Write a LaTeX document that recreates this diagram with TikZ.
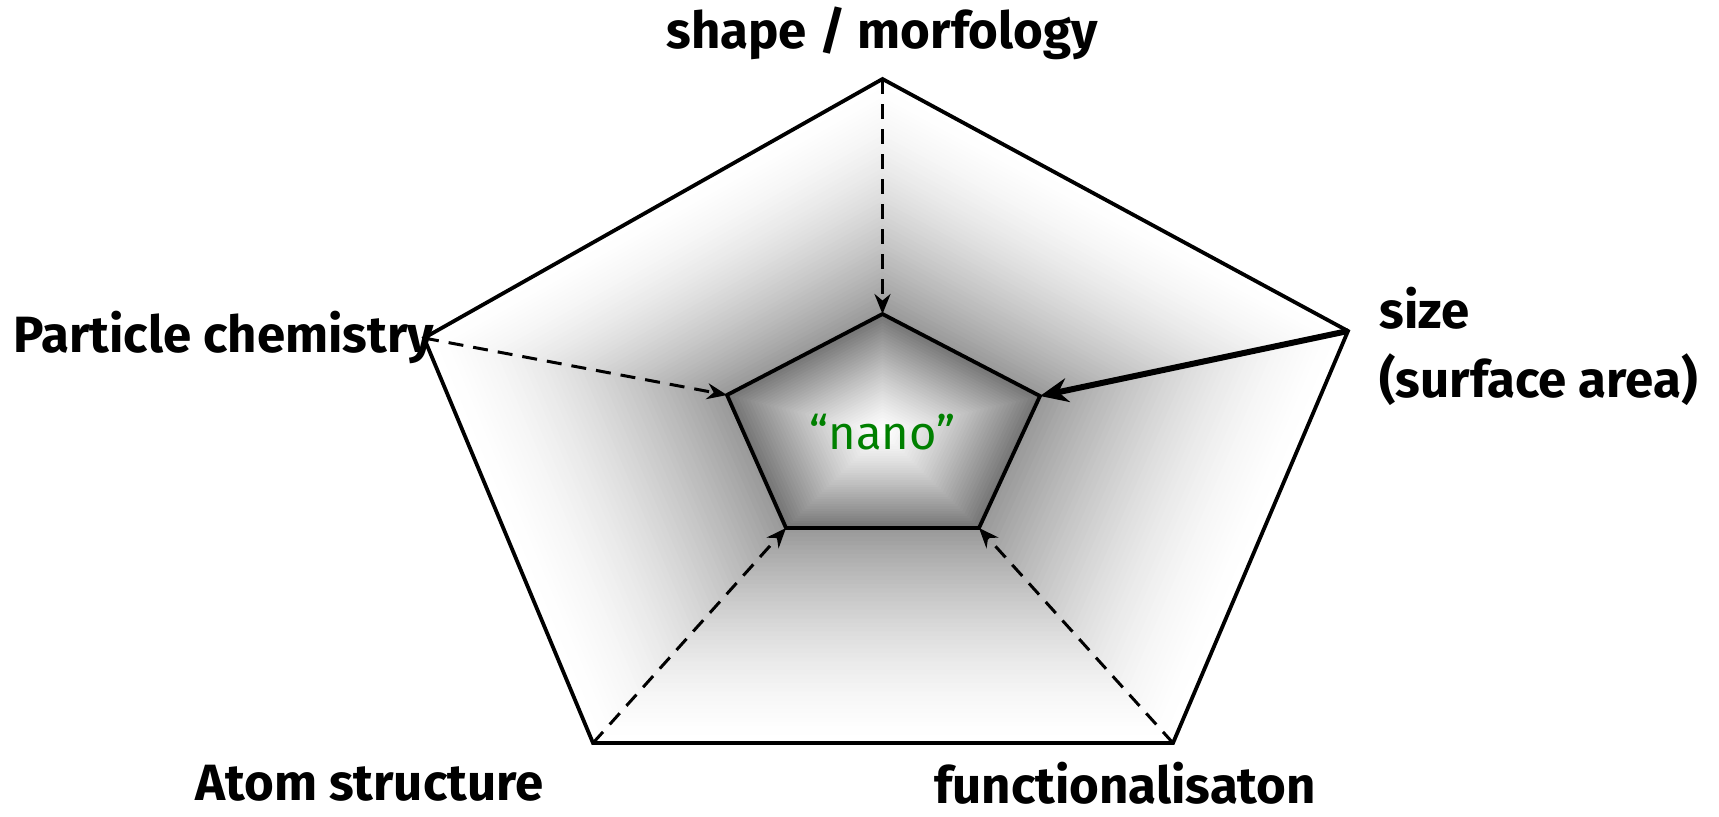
\documentclass[tikz,border=0pt]{standalone}
\usepackage{fontspec}
\setmainfont{Fira Sans}
\usetikzlibrary{calc,arrows.meta}

\tikzset{
    rim/.style={line width=1.9pt, line join=miter},
    feed/.style={line width=1.5pt, dash pattern=on 7.5pt off 5pt, -{Stealth[length=10pt,width=8pt]}},
    mainfeed/.style={line width=3pt, -{Stealth[length=14pt,width=12pt]}},
    factor/.style={font=\fontsize{25.5}{34.5}\selectfont\bfseries, inner sep=0pt}
}

\begin{document}
\begin{tikzpicture}[x=0.5pt, y=-0.5pt]
    \useasboundingbox (0,0) rectangle (1719,816);
    % outer and inner pentagon corners
    \coordinate (o1) at (882.5,79);
    \coordinate (o2) at (1348,331);
    \coordinate (o3) at (1173,743);
    \coordinate (o4) at (593,743);
    \coordinate (o5) at (424,338);
    \coordinate (i1) at (882.5,314);
    \coordinate (i2) at (1040,396);
    \coordinate (i3) at (979,528);
    \coordinate (i4) at (786,528);
    \coordinate (i5) at (727,395);
    \coordinate (c) at (882.5,432);
    % ring between the pentagons
    \foreach \t in {0,...,50}{
        \pgfmathsetmacro\f{\t/50}
        \pgfmathsetmacro\pct{41*(\f)^1.6}
        \fill[black!\pct] ($(o1)!\f!(i1)$) -- ($(o2)!\f!(i2)$) -- ($(o3)!\f!(i3)$)
            -- ($(o4)!\f!(i4)$) -- ($(o5)!\f!(i5)$) -- cycle;
    }
    % core
    \foreach \t in {0,...,40}{
        \pgfmathsetmacro\f{1-\t/40}
        \pgfmathsetmacro\pct{54*(\f)^1.3}
        \fill[black!\pct] ($(c)!\f!(i1)$) -- ($(c)!\f!(i2)$) -- ($(c)!\f!(i3)$)
            -- ($(c)!\f!(i4)$) -- ($(c)!\f!(i5)$) -- cycle;
    }
    \draw[rim] (o1) -- (o2) -- (o3) -- (o4) -- (o5) -- cycle;
    \draw[rim] (i1) -- (i2) -- (i3) -- (i4) -- (i5) -- cycle;
    % arrows
    \draw[feed] (o1) -- (i1);
    \draw[feed] (o5) -- (i5);
    \draw[feed] (o4) -- (i4);
    \draw[feed] (o3) -- (i3);
    \draw[mainfeed] (o2) -- (i2);
    % labels
    \node[factor] (shape) at (882,33) {shape / morfology};
    \node[factor, anchor=west] (chem) at (13,337) {Particle chemistry};
    \node[factor, anchor=west, align=left] (size) at (1379,346.5) {size\\(surface area)};
    \node[factor, anchor=west] (atom) at (195,783) {Atom structure};
    \node[factor, anchor=west] (func) at (934,783) {functionalisaton};
    \node[font=\fontsize{23.5}{28}\selectfont, text=green!50!black] (nano) at (c) {“nano”};
\end{tikzpicture}
\end{document}
